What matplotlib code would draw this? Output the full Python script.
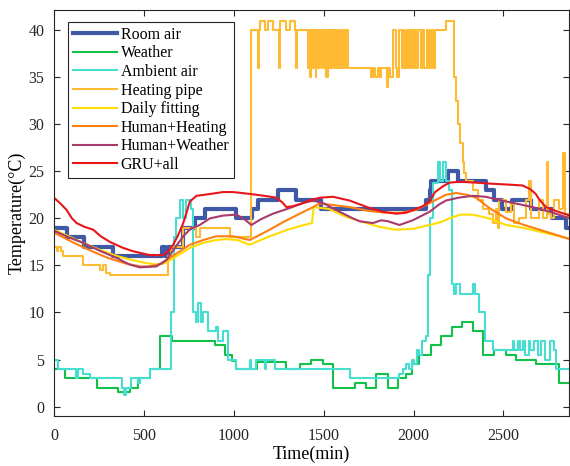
import matplotlib
matplotlib.use("Agg")
import matplotlib.pyplot as plt

# ---------------- data ----------------
t_room = [0, 70, 165, 330, 600, 615, 635, 718, 783, 839, 1015, 1100, 1135, 1245, 1345, 1485,
          2072, 2090, 2100, 2190, 2250, 2405, 2450, 2490, 2550, 2655, 2773, 2850, 2870]
v_room = [19, 18, 17, 16, 17, 16, 17, 19, 20, 21, 20, 21, 22, 23, 22, 21,
          22, 23, 24, 25, 24, 23, 22, 21, 22, 21, 20, 19, 19]

t_weather = [0, 61, 238, 357, 422, 468, 533, 589, 654, 894, 950, 989, 1015, 1127, 1293, 1367,
             1431, 1496, 1552, 1672, 1737, 1793, 1857, 1913, 1960, 1990, 2030, 2095, 2154, 2215,
             2270, 2330, 2385, 2450, 2515, 2570, 2681, 2811, 2870]
v_weather = [4, 3, 2, 1.5, 2, 3, 4, 7.5, 7, 6.5, 5.5, 4.8, 4, 4.7, 4, 4.5,
             5, 4.5, 2, 2.5, 2, 3.5, 2, 3, 3.5, 4.5, 5.5, 6.5, 7.5, 8.5,
             9, 8, 5.5, 6, 5.5, 5, 4.5, 2.5, 2.5]

t_amb = [0, 20, 120, 135, 160, 200, 376, 390, 400, 431, 470, 480, 533, 635, 650, 665, 680, 700,
         720, 735, 760, 774, 790, 800, 815, 830, 857, 900, 913, 940, 968, 1015, 1089, 1095, 1126,
         1172, 1181, 1230, 1645, 1922, 1940, 1959, 1975, 1990, 2005, 2020, 2033, 2050, 2070, 2080,
         2089, 2107, 2135, 2150, 2165, 2181, 2200, 2212, 2225, 2235, 2256, 2330, 2340, 2367, 2400,
         2441, 2552, 2560, 2580, 2590, 2610, 2620, 2640, 2650, 2670, 2690, 2710, 2730, 2760, 2780,
         2793, 2870]
v_amb = [5, 4, 3, 4, 3.5, 3, 2, 1.2, 2, 3, 2.5, 3, 4, 4, 10, 18, 20, 22,
         20, 22, 21, 10, 9, 11, 9, 10, 8, 8.5, 7, 8, 5, 4, 5, 4, 5,
         4, 5, 4, 3, 3.5, 4, 4.5, 4, 5, 4.5, 6, 5.5, 7, 7.5, 14,
         20, 23.8, 26, 24, 26, 24, 23, 13, 12, 13, 12, 13, 12, 10, 7,
         6, 7, 6, 7, 6, 7, 5.5, 7, 6, 7, 5.5, 7, 5, 7, 6,
         4, 4]

t_pipe = [0, 15, 25, 40, 52, 163, 256, 270, 290, 311, 635, 650, 718, 792, 811, 978, 1094,
          1135, 1140, 1144, 1172, 1191, 1218, 1250, 1256, 1293, 1311, 1339, 1345, 1352, 1413,
          1420, 1425, 1432, 1440, 1447, 1455, 1460, 1468, 1478, 1490, 1495, 1505, 1510, 1515,
          1522, 1530, 1536, 1540, 1548, 1555, 1562, 1570, 1578, 1585, 1595, 1600, 1610, 1618,
          1625, 1633, 1763, 1775,
          1785, 1800, 1811, 1820, 1850, 1860, 1870, 1885, 1900, 1910, 1922, 1935, 1945, 1955,
          1965, 1975, 1985, 1995, 2005, 2015, 2025, 2040, 2050, 2060, 2075, 2085, 2095, 2110,
          2120, 2181, 2225, 2237, 2246, 2256, 2274, 2283, 2293, 2330, 2357, 2385, 2422, 2440,
          2460, 2469, 2478, 2515, 2543, 2560, 2589, 2626, 2644, 2654, 2700, 2719, 2740, 2750,
          2765, 2783, 2811, 2830, 2845, 2858, 2870]
v_pipe = [17, 16.5, 17, 16.5, 16, 15, 14.5, 15, 14.2, 14, 16, 17, 19, 18, 19, 18, 40,
          36, 40, 41, 40, 41, 40, 36, 41, 40, 41, 40, 36, 40, 36,
          40, 35, 40, 36, 40, 35, 40, 36, 40, 36, 40, 36, 40, 35,
          40, 36, 40, 36, 40, 36, 40, 36, 40, 36, 40, 36, 40, 36,
          40, 36, 35, 36,
          35, 36, 35, 36, 34, 36, 35, 40, 36, 35, 40, 36, 40, 36,
          40, 36, 40, 36, 40, 36, 40, 36, 40, 36, 40, 36, 40, 36,
          40, 41, 35, 32.5, 30, 28, 26, 24.8, 24, 23, 22, 21, 20.5, 19.5,
          21, 19, 22, 20.7, 21.5, 19.5, 20, 22, 24, 20, 22, 20, 26, 20.5,
          20, 22, 21, 27, 20.5, 20, 19.5]

t_daily = [0, 80, 160, 250, 350, 430, 500, 570, 610, 650, 700, 760, 830, 900, 960, 1020, 1089,
           1150, 1200, 1300, 1370, 1435, 1445, 1530, 1620, 1720, 1810, 1900, 2000, 2090, 2150,
           2200, 2260, 2330, 2420, 2515, 2610, 2700, 2790, 2870]
v_daily = [18.8, 18.1, 17.4, 16.7, 16.0, 15.6, 15.3, 15.1, 15.2, 15.6, 16.2, 16.9, 17.4, 17.7,
           17.8, 17.7, 17.2, 17.7, 18.1, 18.8, 19.2, 19.5, 21.2, 21.0, 20.2, 19.6, 19.1, 18.8,
           18.9, 19.3, 19.6, 20.0, 20.4, 20.4, 20.0, 19.3, 19.0, 18.6, 18.2, 17.8]

t_hh = [0, 100, 200, 300, 400, 480, 533, 600, 644, 700, 756, 830, 903, 996, 1089, 1150, 1200,
        1274, 1367, 1441, 1478, 1560, 1644, 1750, 1848, 1930, 2015, 2107, 2180, 2237, 2300,
        2348, 2422, 2515, 2600, 2700, 2870]
v_hh = [18.5, 17.5, 16.6, 15.8, 15.2, 14.9, 14.9, 15.2, 15.8, 16.5, 17.2, 17.7, 18.1, 18.1,
        17.7, 18.3, 18.8, 19.6, 20.5, 21.2, 21.6, 21.4, 21.2, 20.8, 20.6, 20.6, 20.9, 21.8,
        22.5, 22.7, 22.5, 22.2, 21.1, 20.0, 19.4, 18.8, 17.8]

t_hw = [0, 80, 163, 250, 348, 420, 478, 570, 626, 670, 719, 760, 811, 867, 940, 1015, 1060,
        1098, 1150, 1218, 1311, 1380, 1441, 1500, 1589, 1663, 1700, 1774, 1820, 1857, 1922,
        1996, 2089, 2144, 2181, 2250, 2330, 2400, 2515, 2663, 2760, 2870]
v_hw = [18.7, 18.0, 17.4, 16.6, 15.8, 15.1, 14.8, 14.9, 15.6, 16.8, 18.1, 18.9, 19.3, 20.0,
        20.3, 20.4, 19.9, 19.3, 19.9, 20.5, 21.1, 21.6, 21.9, 21.6, 20.7, 20.0, 19.7, 19.5,
        19.8, 19.7, 19.3, 19.8, 20.7, 21.5, 21.9, 22.2, 22.4, 22.3, 21.8, 21.2, 20.7, 20.0]

t_gru = [0, 40, 70, 100, 126, 170, 218, 260, 311, 380, 441, 533, 607, 640, 663, 690, 719, 740,
         756, 793, 870, 941, 996, 1089, 1170, 1237, 1270, 1293, 1330, 1367, 1420, 1480, 1552,
         1644, 1756, 1830, 1904, 1959, 2000, 2052, 2089, 2120, 2163, 2200, 2260, 2350, 2422,
         2520, 2607, 2650, 2680, 2700, 2737, 2790, 2870]
v_gru = [22.2, 21.5, 20.9, 20.0, 19.5, 19.1, 18.8, 18.1, 17.5, 16.9, 16.5, 16.1, 16.1, 16.6,
         17.2, 18.2, 19.5, 20.8, 21.8, 22.4, 22.6, 22.8, 22.8, 22.6, 22.4, 22.2, 21.7, 21.2,
         21.3, 21.5, 21.9, 22.2, 22.3, 21.9, 21.1, 20.7, 20.5, 20.6, 20.9, 21.3, 21.8, 22.8,
         23.4, 23.8, 23.9, 23.8, 23.7, 23.6, 23.5, 23.1, 22.6, 22.0, 21.2, 20.8, 20.3]

labels = ["Room air", "Weather", "Ambient air", "Heating pipe", "Daily fitting",
          "Human+Heating", "Human+Weather", "GRU+all"]
x_ticks = [0, 500, 1000, 1500, 2000, 2500]
y_ticks = [0, 5, 10, 15, 20, 25, 30, 35, 40]

# ---------------- plot ----------------
plt.rcParams['font.family'] = ['Liberation Serif', 'DejaVu Serif']

fig = plt.figure(figsize=(5.7, 4.66), dpi=100)
ax = fig.add_axes([54/570, 1-416/466, (569-54)/570, (416-9.5)/466])

ax.plot(t_room, v_room, drawstyle='steps-post', color='#3F58A8', lw=3.0, label=labels[0])
ax.plot(t_weather, v_weather, drawstyle='steps-post', color='#12C04A', lw=1.5, label=labels[1])
ax.plot(t_amb, v_amb, drawstyle='steps-post', color='#45DED0', lw=1.5, label=labels[2])
ax.plot(t_pipe, v_pipe, drawstyle='steps-post', color='#FFBA33', lw=1.5, label=labels[3])
ax.plot(t_daily, v_daily, color='#FFDD00', lw=1.5, label=labels[4])
ax.plot(t_hh, v_hh, color='#FF7F10', lw=1.5, label=labels[5])
ax.plot(t_hw, v_hw, color='#A83A6C', lw=1.5, label=labels[6])
ax.plot(t_gru, v_gru, color='#E8161B', lw=1.5, label=labels[7])

ax.set_xlim(0, 2865)
ax.set_ylim(-1, 42.2)
ax.set_xticks(x_ticks)
ax.set_yticks(y_ticks)
ax.tick_params(direction='in', top=True, right=True, length=4, width=0.8,
               labelsize=11.5, colors='#262626')
ax.tick_params(axis='x', pad=9)
ax.tick_params(axis='y', pad=7)
for s in ax.spines.values():
    s.set_color('#262626')
    s.set_linewidth(0.8)

ax.set_xlabel('Time(min)', fontsize=13, labelpad=1)
ax.set_ylabel('Temperature(°C)', fontsize=13, labelpad=2)

leg = ax.legend(loc='upper left', bbox_to_anchor=(0.027, 0.969), borderaxespad=0,
                fontsize=11.5, handlelength=2.8, handletextpad=0.2, labelspacing=0.16,
                borderpad=0.3, fancybox=False, framealpha=1, edgecolor='#262626')
leg.get_frame().set_linewidth(0.8)

fig.savefig('out.png', dpi=100)
